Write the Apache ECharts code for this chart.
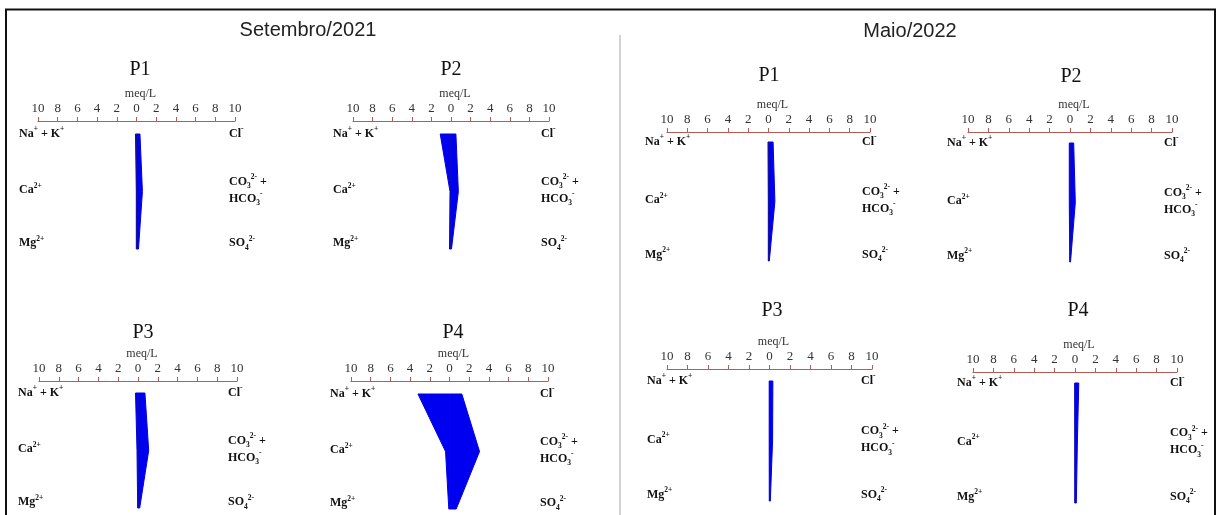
<!DOCTYPE html>
<html><head><meta charset="utf-8">
<script src="https://cdn.jsdelivr.net/npm/echarts@6/dist/echarts.min.js"></script>
<style>html,body{margin:0;padding:0;background:#fff}#c{width:1219px;height:515px}</style>
</head><body><div id="c"></div>
<script>
// ---------- data ----------
const periods    = ['Setembro/2021', 'Maio/2022'];
const panelNames = ['P1', 'P2', 'P3', 'P4', 'P1', 'P2', 'P3', 'P4'];
// cations (left side, meq/L)
const naK  = [0.10, 1.10, 0.25, 3.20, 0.05, 0.07, 0.03, 0.03];
const ca   = [0.02, 0.10, 0.10, 0.40, 0.02, 0.07, 0.03, 0.02];
const mg   = [0.02, 0.15, 0.03, 0.07, 0.02, 0.02, 0.02, 0.02];
// anions (right side, meq/L)
const cl   = [0.35, 0.50, 0.70, 1.25, 0.45, 0.36, 0.33, 0.37];
const hco3 = [0.60, 0.75, 1.08, 3.05, 0.63, 0.52, 0.30, 0.23];
const so4  = [0.20, 0.05, 0.17, 0.68, 0.08, 0.05, 0.08, 0.13];
const axisName = 'meq/L';
const axisMin = -10, axisMax = 10, axisStep = 2;
const cationLabels = ['{b|Na}{sup|+}{b| + K}{sup|+}', '{b|Ca}{sup|2+}', '{b|Mg}{sup|2+}'];
const anionLabels  = ['{b|Cl}{sup|-}', '{b|CO}{sub|3}{sup|2-}{b| +}\n{b|HCO}{sub|3}{sup|-}', '{b|SO}{sub|4}{sup|2-}'];

// ---------- layout (pixels) ----------
// [axisLeft, axisRight, axisLineY, row0Y, row2Y, leftLabelX, rightLabelX, titleX, titleY]
const layout = [
  [38, 235, 121, 134, 249, 19, 229, 140, 70],
  [353, 549, 121, 134, 249, 333, 541, 451, 70],
  [39, 237, 381, 393, 508, 18, 228, 143, 333],
  [351, 548, 381, 394, 509, 330, 540, 453, 333],
  [667, 870, 132, 142, 261, 645, 862, 769, 76],
  [968, 1172, 132, 143, 262, 947, 1164, 1071, 77],
  [667, 872, 369, 381, 501, 647, 861, 772, 311],
  [973, 1177, 372, 383, 503, 957, 1170, 1078, 311]
];
const periodHeader = [[308, 30], [910, 31]];
const labelRows = [0, 0.98, 1.9];

const SERIF = 'Liberation Serif';
const axisColor = '#b85a5a';
const rich = {
  b:   { fontFamily: SERIF, fontWeight: 'bold', fontSize: 12, lineHeight: 17, color: '#111' },
  sup: { fontFamily: SERIF, fontWeight: 'bold', fontSize: 7.5, lineHeight: 9, verticalAlign: 'top', color: '#111' },
  sub: { fontFamily: SERIF, fontWeight: 'bold', fontSize: 7.5, lineHeight: 9, verticalAlign: 'bottom', color: '#111' }
};

const W = 1219, H = 515;
const grids = [], xAxes = [], yAxes = [], series = [], graphics = [];

graphics.push({ type: 'rect', shape: { x: 6, y: 9.5, width: 1209, height: 530 },
  style: { fill: null, stroke: '#111', lineWidth: 2 }, silent: true });
graphics.push({ type: 'line', shape: { x1: 620, y1: 35, x2: 620, y2: 520 },
  style: { stroke: '#c4c4c4', lineWidth: 1.5 }, silent: true });
periods.forEach((p, i) => {
  graphics.push({ type: 'text', x: periodHeader[i][0], y: periodHeader[i][1],
    style: { text: p, fontFamily: 'Liberation Sans', fontSize: 20, fill: '#222',
      textAlign: 'center', textVerticalAlign: 'middle' } });
});

const rowIdx = v => Math.min(2, Math.max(0, Math.round(v)));

panelNames.forEach((name, i) => {
  const [aL, aR, aY, r0, r2, lx, rx, tx, ty] = layout[i];
  const yMin = -2 * (r0 - aY) / (r2 - r0);
  grids.push({ left: aL, top: aY, width: aR - aL, height: r2 - aY, containLabel: false });
  xAxes.push({
    type: 'value', gridIndex: i, position: 'top',
    min: axisMin, max: axisMax, interval: axisStep,
    name: axisName, nameLocation: 'middle', nameGap: 21,
    nameTextStyle: { fontFamily: SERIF, fontSize: 12, color: '#333', padding: [0, 0, 0, 8] },
    axisLine: { show: true, onZero: false, lineStyle: { color: axisColor, width: 1.2 } },
    axisTick: { show: true, length: 4, lineStyle: { color: axisColor, width: 1 } },
    axisLabel: { formatter: v => String(Math.abs(v)), margin: 6, fontFamily: SERIF, fontSize: 13, color: '#333',
      showMinLabel: true, showMaxLabel: true },
    splitLine: { show: false }
  });
  const yLab = (labels, margin) => ({
    customValues: labelRows, formatter: v => labels[rowIdx(v)], align: 'left', margin: margin, rich: rich,
    showMinLabel: true, showMaxLabel: true, hideOverlap: false
  });
  yAxes.push({
    type: 'value', gridIndex: i, position: 'left', inverse: true, min: yMin, max: 2,
    axisLine: { show: false }, axisTick: { show: false }, splitLine: { show: false },
    axisLabel: yLab(cationLabels, aL - lx)
  });
  yAxes.push({
    type: 'value', gridIndex: i, position: 'right', inverse: true, min: yMin, max: 2,
    axisLine: { show: false }, axisTick: { show: false }, splitLine: { show: false },
    axisLabel: yLab(anionLabels, rx - aR)
  });
  series.push({
    type: 'custom', xAxisIndex: i, yAxisIndex: 2 * i, clip: false, silent: true,
    data: [[naK[i], ca[i], mg[i], cl[i], hco3[i], so4[i]]],
    encode: { x: [0, 1, 2, 3, 4, 5] },
    renderItem: (params, api) => {
      const pts = [
        api.coord([-api.value(0), 0]),
        api.coord([-api.value(1), 1]),
        api.coord([-api.value(2), 2]),
        api.coord([api.value(5), 2]),
        api.coord([api.value(4), 1]),
        api.coord([api.value(3), 0])
      ];
      const t = api.coord([0, 0]), b = api.coord([0, 2]);
      return { type: 'group', children: [
        { type: 'polygon', shape: { points: pts }, style: { fill: '#0000f0', stroke: '#0000e6', lineWidth: 1 } },
        { type: 'line', shape: { x1: t[0], y1: t[1], x2: b[0], y2: b[1] }, style: { stroke: '#14148c', lineWidth: 0.8 } }
      ] };
    }
  });
  graphics.push({ type: 'text', x: tx, y: ty,
    style: { text: name, fontFamily: SERIF, fontSize: 20, fill: '#111', textAlign: 'center', textVerticalAlign: 'middle' } });
});

const chart = echarts.init(document.getElementById('c'), null, { renderer: 'canvas', width: W, height: H });
chart.setOption({
  animation: false,
  backgroundColor: '#fff',
  grid: grids, xAxis: xAxes, yAxis: yAxes, series: series,
  graphic: { elements: graphics }
});
</script>
</body></html>
